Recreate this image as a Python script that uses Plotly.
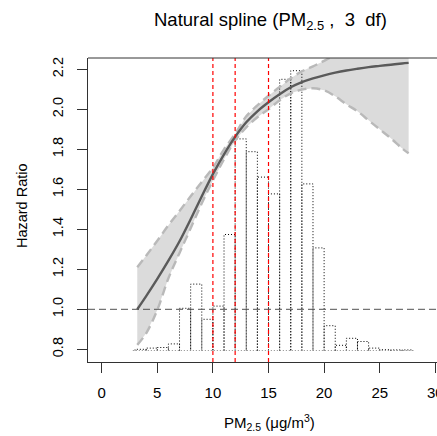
import plotly.graph_objects as go

# ---- data ----
pm_grid = [3.2, 4, 5, 6, 7, 8, 9, 10, 11, 12, 13, 14, 15, 16, 17, 18, 19, 20,
           21, 22, 23, 24, 25, 26, 27, 27.6]
hr_fit = [1.000, 1.066, 1.152, 1.243, 1.340, 1.450, 1.565, 1.676, 1.775, 1.862,
          1.935, 1.990, 2.035, 2.075, 2.110, 2.136, 2.155, 2.170, 2.183, 2.194,
          2.203, 2.211, 2.217, 2.223, 2.229, 2.232]
hr_upper = [1.210, 1.268, 1.343, 1.420, 1.492, 1.565, 1.637, 1.708, 1.800, 1.877,
            1.965, 2.020, 2.068, 2.112, 2.155, 2.190, 2.215, 2.242, 2.275, 2.320,
            2.370, 2.430, 2.490, 2.560, 2.630, 2.680]
hr_lower = [0.822, 0.880, 0.997, 1.155, 1.282, 1.405, 1.530, 1.644, 1.750, 1.844,
            1.910, 1.960, 2.000, 2.045, 2.080, 2.098, 2.105, 2.095, 2.065, 2.025,
            1.990, 1.945, 1.900, 1.855, 1.805, 1.780]

hist_left = list(range(3, 28))          # bin left edges, width 1
hist_top = [0.800, 0.806, 0.809, 0.827, 1.005, 1.126, 0.950, 1.016, 1.374, 1.852,
            1.788, 1.661, 1.577, 2.150, 2.193, 1.627, 1.307, 0.918, 0.820, 0.855,
            0.839, 0.806, 0.798, 0.797, 0.797]
hist_base = 0.794
bin_width = 1

ref_pm = [10, 12, 15]
ref_hr = 1.0

x_ticks = [0, 5, 10, 15, 20, 25, 30]
y_ticks = [0.8, 1.0, 1.2, 1.4, 1.6, 1.8, 2.0, 2.2]
y_ticklabels = ["0.8", "1.0", "1.2", "1.4", "1.6", "1.8", "2.0", "2.2"]

FONT = "Liberation Sans, Arial, Helvetica, sans-serif"

fig = go.Figure()

# confidence band fill
fig.add_trace(go.Scatter(
    x=pm_grid + pm_grid[::-1], y=hr_upper + hr_lower[::-1],
    fill="toself", fillcolor="rgb(219,219,219)", line=dict(width=0),
    mode="lines", hoverinfo="skip", showlegend=False))

# histogram outline (dotted rectangles)
hx, hy = [], []
for l, h in zip(hist_left, hist_top):
    r = l + bin_width
    hx += [l, l, r, r, None]
    hy += [hist_base, h, h, hist_base, None]
fig.add_trace(go.Scatter(x=hx, y=hy, mode="lines",
                         line=dict(color="black", width=1, dash="1px,2px"),
                         showlegend=False, hoverinfo="skip"))
fig.add_trace(go.Scatter(x=[hist_left[0] - 0.2, hist_left[-1] + bin_width],
                         y=[hist_base, hist_base], mode="lines",
                         line=dict(color="rgb(140,140,140)", width=1.2, dash="1px,2px"),
                         showlegend=False, hoverinfo="skip"))

# CI dashed boundaries
for band in (hr_upper, hr_lower):
    fig.add_trace(go.Scatter(x=pm_grid, y=band, mode="lines", line_shape="spline",
                             line=dict(color="rgb(185,185,185)", width=2.4, dash="9px,5px"),
                             showlegend=False, hoverinfo="skip"))

# fitted curve
fig.add_trace(go.Scatter(x=pm_grid, y=hr_fit, mode="lines", line_shape="spline",
                         line=dict(color="rgb(90,90,90)", width=2.4),
                         showlegend=False, hoverinfo="skip"))

shapes = []
for v in ref_pm:
    shapes.append(dict(type="line", xref="x", yref="paper", x0=v, x1=v, y0=0, y1=1,
                       line=dict(color="red", width=1.2, dash="4px,3px")))
shapes.append(dict(type="line", xref="paper", yref="y", x0=0, x1=1, y0=ref_hr, y1=ref_hr,
                   line=dict(color="rgb(80,80,80)", width=1, dash="7px,4px")))
# top border of the box
shapes.append(dict(type="line", xref="paper", yref="paper", x0=0, x1=1, y0=1, y1=1,
                   line=dict(color="rgb(50,50,50)", width=1)))

annotations = [
    dict(text="Natural spline (PM<sub>2.5</sub> ,\u00a0\u00a03\u00a0\u00a0df)",
         xref="paper", yref="paper", x=0.524, y=1.122, xanchor="center", yanchor="middle",
         showarrow=False, font=dict(family=FONT, size=18.5, color="black")),
    dict(text="PM<sub>2.5</sub> (μg/m<sup>3</sup>)",
         xref="paper", yref="paper", x=0.519, y=-0.200, xanchor="center", yanchor="middle",
         showarrow=False, font=dict(family=FONT, size=15, color="black")),
    dict(text="Hazard Ratio", textangle=-90,
         xref="paper", yref="paper", x=-0.189, y=0.513, xanchor="center", yanchor="middle",
         showarrow=False, font=dict(family=FONT, size=14.5, color="black")),
]

fig.update_layout(
    width=437, height=436,
    margin=dict(l=88, r=0, t=58, b=74, autoexpand=False),
    paper_bgcolor="white", plot_bgcolor="white",
    shapes=shapes, annotations=annotations,
    font=dict(family=FONT, size=15, color="black"),
    xaxis=dict(range=[-1.23, 30.15], tickvals=x_ticks, ticks="outside", ticklen=10,
               tickcolor="rgb(50,50,50)", showline=True, linecolor="rgb(50,50,50)",
               linewidth=1, showgrid=False, zeroline=False, ticklabelstandoff=7,
               ticklabeloverflow="allow", automargin=False,
               tickfont=dict(family=FONT, size=15, color="black")),
    yaxis=dict(range=[0.7365, 2.2565], tickvals=y_ticks, ticktext=y_ticklabels,
               ticks="outside", ticklen=10, tickangle=-90, automargin=False,
               tickcolor="rgb(50,50,50)", showline=True, linecolor="rgb(50,50,50)",
               linewidth=1, showgrid=False, zeroline=False, ticklabelstandoff=8,
               tickfont=dict(family=FONT, size=14.5, color="black")),
)

fig.write_html("out.html")
